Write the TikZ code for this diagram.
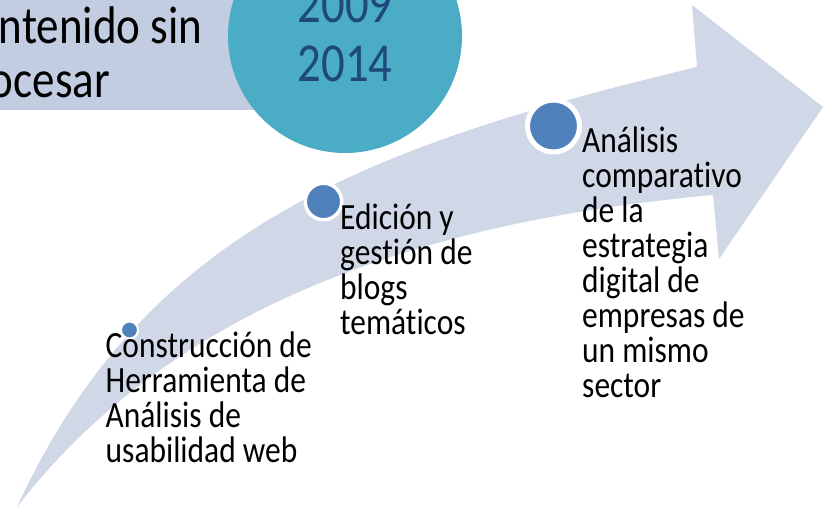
\documentclass[tikz,border=0pt]{standalone}
\usepackage{fontspec}
\setmainfont{Carlito}[FakeStretch=0.85,Ligatures={NoCommon},RawFeature={-liga;-clig}]
\definecolor{bandc}{RGB}{208,216,232}
\definecolor{rectc}{RGB}{194,205,225}
\definecolor{tealc}{RGB}{75,172,198}
\definecolor{yearc}{RGB}{31,73,125}
\definecolor{dotc}{RGB}{79,129,189}
\newcommand\txtlines[2]{\vtop{\baselineskip=#1\lineskiplimit=-1000pt\lineskip=0pt\halign{##\hfil\cr#2\crcr}}}
\begin{document}
\begin{tikzpicture}[x=1pt,y=-1pt,
  dotnode/.style={circle,fill=dotc,draw=white,inner sep=0pt},
  itemtext/.style={anchor=base west,inner sep=0pt,font=\fontsize{37}{35}\selectfont,text=black},
  yeartext/.style={anchor=base,inner sep=0pt,font=\fontsize{55}{58}\selectfont,text=yearc},
  titletext/.style={anchor=base west,inner sep=0pt,font=\fontsize{53}{54}\selectfont,text=black}]
\useasboundingbox (0,0) rectangle (827,512);
\fill[white] (0,0) rectangle (827,512);
\clip (0,0) rectangle (827,512);
% top-left box
\fill[rectc] (-20,-20) rectangle (330,110);
\node[titletext] (title) at (-49,43) {\txtlines{54pt}{Contenido sin\cr procesar}};
% year circle
\node[circle,fill=tealc,inner sep=0pt,minimum size=234pt] (yrs) at (345,36) {};
\node[yeartext] (y1) at (345,22.7) {2009};
\node[yeartext] (y2) at (345,81) {2014};
% curved arrow band
\fill[bandc] (17,507) .. controls (143,234) and (357,148) .. (697,67)
  -- (692,5) -- (823,107) -- (719,259) -- (713,195)
  .. controls (414.5,222) and (169.5,309.5) .. (17,507) -- cycle;
% milestones
\node[dotnode,minimum size=17pt,line width=2pt] (d1) at (129.5,330) {};
\node[dotnode,minimum size=36.5pt,line width=3.5pt] (d2) at (323.5,201.5) {};
\node[dotnode,minimum size=52pt,line width=5pt] (d3) at (553.5,126) {};
\node[itemtext] (t1) at (105.5,357) {\txtlines{35pt}{Construcción de\cr Herramienta de\cr Análisis de\cr usabilidad web}};
\node[itemtext] (t2) at (340,229) {\txtlines{35pt}{Edición y\cr gestión de\cr blogs\cr temáticos}};
\node[itemtext] (t3) at (582,152) {\txtlines{35pt}{Análisis\cr comparativo\cr de la\cr estrategia\cr digital de\cr empresas de\cr un mismo\cr sector}};
\end{tikzpicture}
\end{document}
